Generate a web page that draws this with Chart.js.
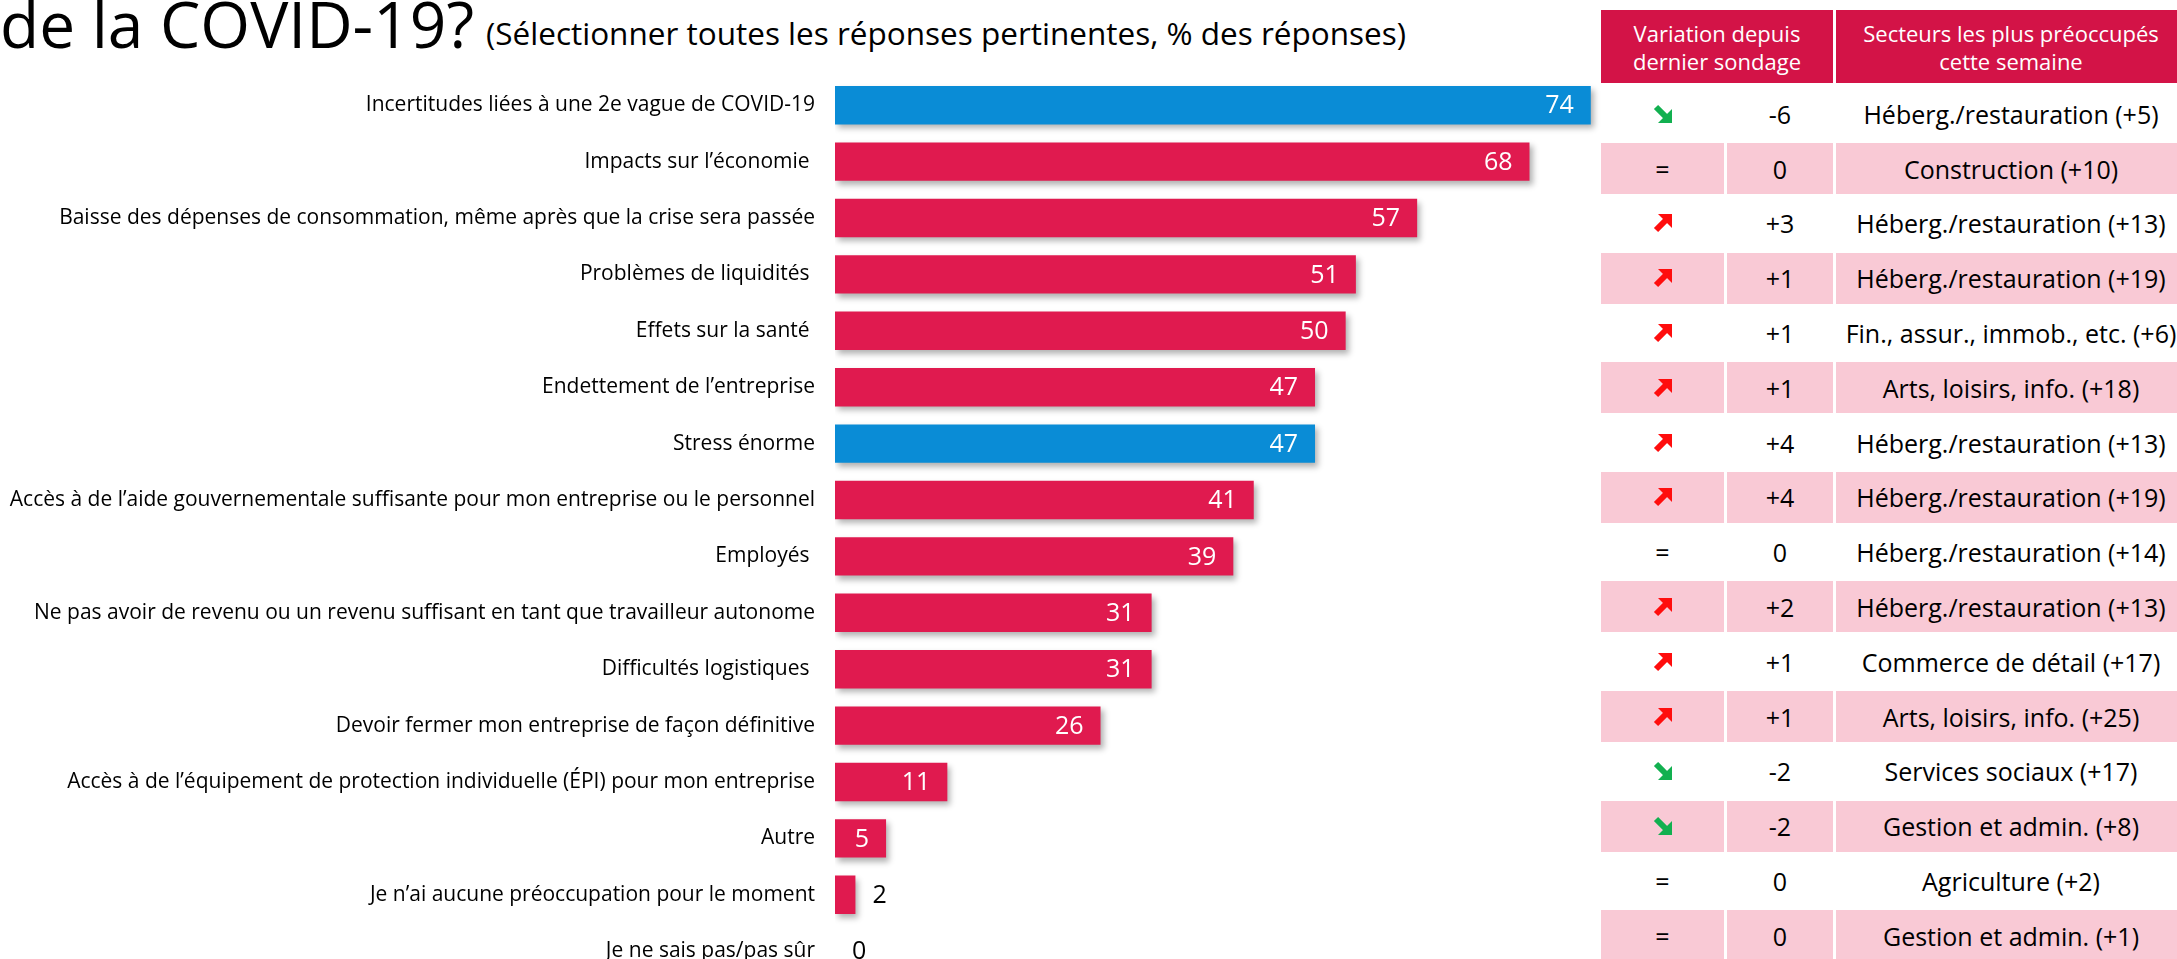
<!DOCTYPE html>
<html lang="fr">
<head>
<meta charset="utf-8">
<title>Préoccupations liées à la COVID-19</title>
<script src="https://cdn.jsdelivr.net/npm/chart.js@4.4.0/dist/chart.umd.min.js"></script>
<style>
  html, body { margin: 0; padding: 0; background: #fff; }
  body { position: relative; width: 2177px; height: 959px; overflow: hidden; font-family: 'Open Sans', sans-serif; color: #000; }
  #wrap { position: absolute; left: 0; top: 0; width: 1601px; height: 1012px; }
  .title { position: absolute; white-space: nowrap; line-height: 1; }
  .cell { position: absolute; display: flex; align-items: center; justify-content: center; white-space: nowrap; }
  .head { color: #fff; font-size: 22px; line-height: 28px; text-align: center; }
  .row { font-size: 25px; }
</style>
</head>
<body>
<div class="title" style="right:1703px; top:-8px; font-size:64px;">de la COVID-19?</div>
<div class="title" style="left:486px; top:17px; font-size:31.5px;">(Sélectionner toutes les réponses pertinentes, % des réponses)</div>
<div id="wrap"><canvas id="chart" width="1601" height="1012"></canvas></div>
<div id="table"></div>
<script>
// categories and % of answers
const categories = [
  'Incertitudes liées à une 2e vague de COVID-19',
  'Impacts sur l’économie ',
  'Baisse des dépenses de consommation, même après que la crise sera passée',
  'Problèmes de liquidités ',
  'Effets sur la santé ',
  'Endettement de l’entreprise',
  'Stress énorme',
  'Accès à de l’aide gouvernementale suffisante pour mon entreprise ou le personnel',
  'Employés ',
  'Ne pas avoir de revenu ou un revenu suffisant en tant que travailleur autonome',
  'Difficultés logistiques ',
  'Devoir fermer mon entreprise de façon définitive',
  'Accès à de l’équipement de protection individuelle (ÉPI) pour mon entreprise',
  'Autre',
  'Je n’ai aucune préoccupation pour le moment',
  'Je ne sais pas/pas sûr'
];
const values = [74, 68, 57, 51, 50, 47, 47, 41, 39, 31, 31, 26, 11, 5, 2, 0];
const highlightRows = [0, 6];

// table : change since last survey + most concerned sector
const changes = [-6, 0, 3, 1, 1, 1, 4, 4, 0, 2, 1, 1, -2, -2, 0, 0];
const sectors = [
  'Héberg./restauration (+5)',
  'Construction (+10)',
  'Héberg./restauration (+13)',
  'Héberg./restauration (+19)',
  'Fin., assur., immob., etc. (+6)',
  'Arts, loisirs, info. (+18)',
  'Héberg./restauration (+13)',
  'Héberg./restauration (+19)',
  'Héberg./restauration (+14)',
  'Héberg./restauration (+13)',
  'Commerce de détail (+17)',
  'Arts, loisirs, info. (+25)',
  'Services sociaux (+17)',
  'Gestion et admin. (+8)',
  'Agriculture (+2)',
  'Gestion et admin. (+1)'
];
const tableHeaders = ['Variation depuis<br>dernier sondage', 'Secteurs les plus préoccupés<br>cette semaine'];

const RED = '#e01a4f';
const BLUE = '#0a8cd6';
const HEAD_RED = '#d31347';
const PINK = '#f9c9d5';

Chart.defaults.font.family = "'Open Sans', sans-serif";

const barShadow = {
  id: 'barShadow',
  beforeDatasetsDraw(chart) {
    const c = chart.ctx;
    c.save();
    c.shadowColor = 'rgba(0,0,0,0.3)';
    c.shadowBlur = 6;
    c.shadowOffsetX = 3;
    c.shadowOffsetY = 4;
  },
  afterDatasetsDraw(chart) {
    chart.ctx.restore();
  }
};

const valueLabels = {
  id: 'valueLabels',
  afterDatasetsDraw(chart) {
    const c = chart.ctx;
    const meta = chart.getDatasetMeta(0);
    c.save();
    c.font = "25px 'Open Sans'";
    c.textBaseline = 'middle';
    meta.data.forEach((bar, i) => {
      const v = values[i];
      if (v >= 5) {
        c.fillStyle = '#fff';
        c.textAlign = 'right';
        c.fillText(v, bar.x - 17, bar.y + 1);
      } else {
        c.fillStyle = '#000';
        c.textAlign = 'left';
        c.fillText(v, bar.x + 17, bar.y + 1);
      }
    });
    c.restore();
  }
};

new Chart(document.getElementById('chart'), {
  type: 'bar',
  data: {
    labels: categories,
    datasets: [{
      data: values,
      backgroundColor: values.map((v, i) => highlightRows.includes(i) ? BLUE : RED),
      barPercentage: 0.68,
      categoryPercentage: 1
    }]
  },
  options: {
    indexAxis: 'y',
    responsive: false,
    maintainAspectRatio: false,
    animation: false,
    layout: { padding: { top: 77, bottom: 0, left: 0, right: 0 } },
    scales: {
      x: { display: false, min: 0, max: 75 },
      y: {
        grid: { display: false, drawTicks: false },
        border: { display: false },
        ticks: { color: '#000', font: { size: 21 }, padding: 20, autoSkip: false },
        afterFit: (scale) => { scale.width = 835; }
      }
    },
    plugins: {
      legend: { display: false },
      tooltip: { enabled: false }
    }
  },
  plugins: [barShadow, valueLabels]
});

// table : BUILD
const table = document.getElementById('table');
function cell(x, y, w, h, bg, html, cls) {
  const d = document.createElement('div');
  d.className = 'cell ' + cls;
  d.style.left = x + 'px';
  d.style.top = y + 'px';
  d.style.width = w + 'px';
  d.style.height = h + 'px';
  if (bg) d.style.background = bg;
  d.innerHTML = html;
  table.appendChild(d);
}
function arrow(v) {
  if (v === 0) return '=';
  if (v > 0) {
    return '<svg width="20" height="20" viewBox="0 0 20 20"><line x1="3" y1="17" x2="13" y2="7" stroke="#ff0d0d" stroke-width="6"/><polygon points="5,1 19,1 19,15" fill="#ff0d0d"/></svg>';
  }
  return '<svg width="20" height="20" viewBox="0 0 20 20"><line x1="3" y1="3" x2="13" y2="13" stroke="#12b050" stroke-width="6"/><polygon points="5,19 19,19 19,5" fill="#12b050"/></svg>';
}

cell(1601, 10, 232, 73, HEAD_RED, tableHeaders[0], 'head');
cell(1836, 10, 350, 73, HEAD_RED, tableHeaders[1], 'head');
changes.forEach((v, i) => {
  const top = 88.2 + 54.8 * i;
  const bg = i % 2 ? PINK : null;
  cell(1601, top, 123, 51, bg, arrow(v), 'row');
  cell(1727, top, 106, 51, bg, v > 0 ? '+' + v : String(v), 'row');
  cell(1836, top, 350, 51, bg, sectors[i], 'row');
});
</script>
</body>
</html>
